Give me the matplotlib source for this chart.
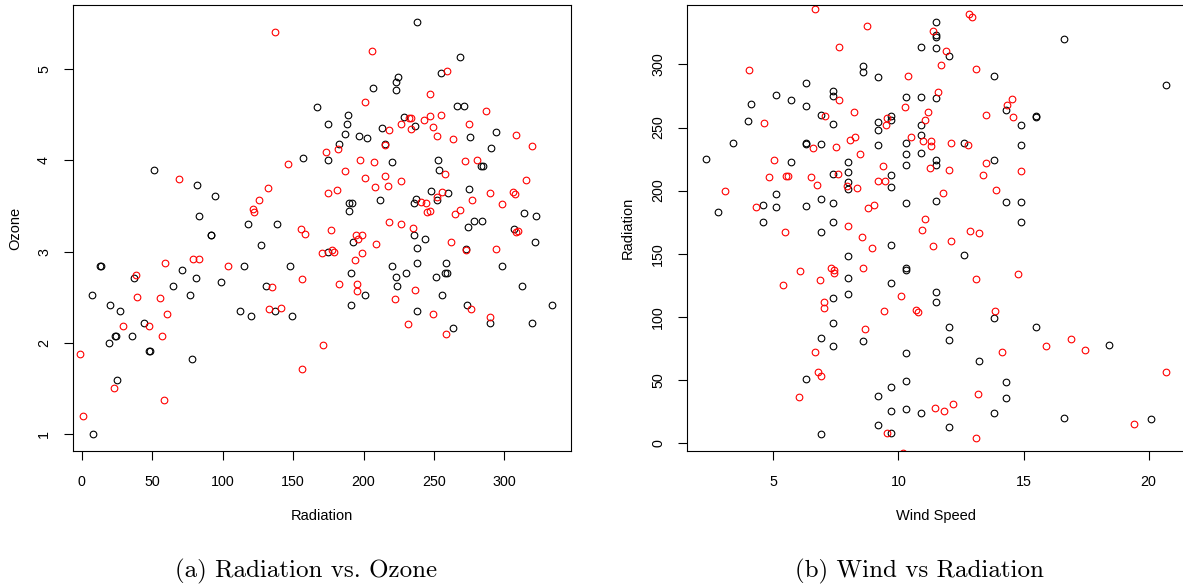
import matplotlib.pyplot as plt

# ---- panel (a): radiation vs cube-root ozone ----
rad_black = [166.7, 157, 51, 81.8, 94.8, 83, 118, 138.7,
             237.6, 268.8, 254.8, 224.8, 222.9, 206.8, 222.7, 266.7, 271.6, 188.9, 174.9, 187.9,
             186.7, 182.7, 196.9, 202.8, 212.8, 214.9, 228.8, 236.6, 275.9, 293.8, 290.8, 174.9,
             219.9, 252.7, 253.6, 283.7, 284.6, 189.8, 191.5, 189.8, 211.8, 236.9, 235.9, 247.7,
             251.8, 259.8, 274.7, 313.7, 322.7, 278.7, 283.9, 274, 306.6,
             321.7, 192.6, 235.7, 243.7, 272.8, 237.6, 174.9, 237.6, 258.6, 219.9, 298.6, 190.8,
             258, 259, 222.7, 229.8, 251.5, 200.9, 223.6, 255.7, 312.5, 190.8, 237.6, 273.8,
             289.6, 333.8, 319.9, 263.6,
             91.5, 92, 126.9, 12.8, 13.6, 114.9, 147.7, 36.9, 70.9, 80.9, 65, 98.8, 7.1, 76.8,
             130.9, 20.1, 26.9, 44, 23.5, 24.3, 35.9, 19.1, 47.8, 48.6, 78, 112.3, 119.9, 137.1,
             148.9, 25, 7.8]
ozone_black = [4.58, 4.02, 3.89, 3.73, 3.61, 3.39, 3.30, 3.30,
               5.52, 5.13, 4.96, 4.91, 4.86, 4.79, 4.77, 4.60, 4.60, 4.50, 4.40, 4.40,
               4.29, 4.18, 4.27, 4.24, 4.35, 4.18, 4.47, 4.38, 4.26, 4.31, 4.14, 4.00,
               3.98, 4.00, 3.89, 3.94, 3.94, 3.53, 3.53, 3.45, 3.56, 3.58, 3.53, 3.66,
               3.56, 3.64, 3.69, 3.42, 3.39, 3.33, 3.33, 3.27, 3.25,
               3.11, 3.11, 3.18, 3.14, 3.03, 3.04, 3.00, 2.88, 2.88, 2.84, 2.84, 2.76,
               2.76, 2.76, 2.72, 2.76, 2.72, 2.52, 2.62, 2.52, 2.62, 2.41, 2.35, 2.41,
               2.22, 2.41, 2.22, 2.16,
               3.18, 3.18, 3.07, 2.84, 2.84, 2.84, 2.84, 2.71, 2.80, 2.71, 2.62, 2.67, 2.52, 2.52,
               2.62, 2.41, 2.35, 2.22, 2.08, 2.08, 2.08, 2.00, 1.91, 1.91, 1.82, 2.35, 2.29, 2.35,
               2.29, 1.59, 1.00]

rad_red = [137.3, 146.3, 69, 132.1, 125.7, 121.5, 122, 155.3,
           205.9, 259.1, 247.5, 287.2, 200.7, 215.3, 218.2, 226.5, 232.6, 233.8, 233.8, 243,
           247.5, 249.6, 255, 251.8, 263.6, 274.7, 308.5, 319.9, 173.5, 181.8, 197.6, 207.3,
           187, 200.7, 215.1, 207.8, 217.7, 226.7, 257.9, 272.1, 280.9, 315.1, 174.9, 180.9,
           241.1, 244, 251.8, 255.7, 245.4, 247, 265, 268.5, 277.3, 290.1, 298.1, 306.1,
           307.5, 217.9, 226.7, 234.8, 177,
           158.4, 308.1, 309.5, 194.5, 198.8, 196.4, 208.5, 262, 272.8, 294.3, 170.4, 177.7,
           179.1, 198.8, 193.6, 156, 182.3, 195.7, 195.2, 236.2, 222, 249.6, 276.3, 290.1,
           231.9, 258.6, 171.4, 156.5,
           59.1, 79.2, 83, 104, 38.5, 39.2, 55.5, 135.2, 60.7, 47.9, 29.5, 57, 133, 141.6,
           -1.2, 23.1, 58.4, 0.7]
ozone_red = [5.41, 3.96, 3.80, 3.70, 3.57, 3.47, 3.43, 3.25,
             5.20, 4.98, 4.73, 4.54, 4.64, 4.17, 4.33, 4.40, 4.46, 4.46, 4.34, 4.44,
             4.48, 4.37, 4.50, 4.27, 4.23, 4.40, 4.28, 4.16, 4.09, 4.12, 4.00, 3.98,
             3.88, 3.81, 3.83, 3.71, 3.72, 3.77, 3.85, 3.99, 4.00, 3.78, 3.64, 3.67,
             3.54, 3.53, 3.60, 3.65, 3.43, 3.45, 3.41, 3.46, 3.57, 3.64, 3.52, 3.65,
             3.63, 3.32, 3.30, 3.26, 3.24,
             3.19, 3.22, 3.23, 3.18, 3.18, 3.14, 3.08, 3.11, 3.02, 3.03, 2.98, 3.02,
             3.00, 2.98, 2.91, 2.70, 2.65, 2.64, 2.57, 2.58, 2.48, 2.32, 2.37, 2.28,
             2.21, 2.10, 1.98, 1.71,
             2.88, 2.92, 2.92, 2.84, 2.74, 2.50, 2.49, 2.61, 2.32, 2.19, 2.19, 2.08, 2.37, 2.38,
             1.88, 1.51, 1.37, 1.20]

# ---- panel (b): wind speed vs radiation ----
wind_black = [10.9, 8.6, 8.6, 9.2, 6.3, 5.1, 5.7, 4.1, 6.3, 7.4, 7.4, 10.3, 10.9, 4.0, 6.9, 7.4,
              9.7, 9.7, 9.2, 9.2, 10.9, 10.9, 3.4, 6.3, 6.3, 6.9, 9.2, 10.3, 10.3, 10.3, 10.9, 2.3,
              5.7, 7.4, 8.0, 8.0, 8.0, 8.0, 9.7, 9.7, 5.1, 2.8, 4.6, 5.1, 6.3, 6.9, 7.4, 10.3,
              4.6, 7.4,
              11.5, 11.5, 11.5, 11.5, 12.0, 16.6, 13.8, 20.7, 11.5, 14.3, 15.5, 15.5, 14.9, 12.6,
              14.9, 11.5, 11.5, 13.8, 11.5, 14.3, 14.9, 14.9,
              6.9, 9.7, 8.0, 8.0, 9.7, 10.3, 10.3, 8.0, 7.4, 7.4, 6.9, 7.4, 8.6, 10.3, 6.3, 10.3,
              9.7, 9.2, 9.7, 10.3, 10.9, 9.2, 9.7, 6.9,
              12.6, 11.5, 11.5, 13.8, 12.0, 12.0, 15.5, 13.2, 18.4, 14.3, 14.3, 13.8, 16.6, 20.1,
              12.0]
rad_b_black = [314, 299, 294, 290, 285, 276, 272, 269, 267, 279, 275, 274, 274, 255, 260, 253,
               259, 256, 254, 248, 252, 244, 238, 238, 237, 237, 236, 238, 229, 220, 230, 225,
               223, 213, 223, 215, 207, 201, 212, 203, 197, 183, 189, 187, 188, 193, 190, 190,
               175, 175,
               334, 323, 322, 313, 307, 320, 291, 284, 273, 264, 259, 258, 252, 238, 236, 224,
               220, 224, 192, 191, 191, 175,
               167, 157, 148, 131, 127, 139, 137, 118, 115, 95, 83, 77, 81, 71, 51, 49, 44, 37,
               25, 27, 24, 14, 8, 7,
               149, 120, 112, 99, 92, 82, 92, 65, 78, 48, 36, 24, 20, 19, 13]

wind_red = [6.65, 8.75, 7.63, 4.03, 10.39, 7.63, 8.23, 10.28, 11.17, 4.64, 7.07, 9.56, 9.52,
            11.08, 10.49, 10.99, 6.59, 7.49, 8.05, 8.27, 8.47, 5.03, 4.81, 5.51, 5.59, 6.49,
            6.73, 7.59, 7.93, 8.35, 9.4, 9.17, 9.47, 3.07, 4.29, 8.77, 9.03, 11.07, 7.99,
            12.8, 12.93, 11.37, 11.89, 11.71, 13.11, 11.57, 14.53, 14.35, 13.51, 14.56, 11.29,
            11.29, 12.08, 12.76, 11.25, 12.0, 13.48, 13.37, 14.89, 11.77, 13.88,
            5.45, 8.55, 8.93, 10.96, 6.08, 5.37, 6.87, 7.31, 7.44, 7.44, 8.6, 7.03, 7.03, 10.11,
            9.41, 10.69, 10.79, 8.67, 6.65, 6.79, 6.89, 6.01, 9.55, 10.19,
            12.85, 13.2, 12.11, 11.4, 13.11, 14.77, 13.87, 14.12, 15.91, 16.88, 17.44, 20.68,
            13.17, 12.17, 11.45, 11.81, 19.4, 13.08]
rad_b_red = [343.6, 330.4, 313.8, 295.8, 290.8, 271.8, 262.3, 266.2, 262.5, 253.6, 258.9, 257.3,
             251.7, 255.7, 242.5, 239.5, 233.8, 234.5, 239.9, 242.2, 229.3, 224, 211, 211.6,
             211.6, 210.5, 204.2, 212.9, 203.6, 201.8, 219.3, 207.8, 207.4, 199.9, 187, 186,
             188.3, 177.3, 171.7,
             339.7, 337.8, 326.7, 310.4, 299.8, 296.1, 277.9, 272.6, 267.6, 259.9, 258.1, 239.5,
             235.3, 237.7, 236.1, 217.7, 216.1, 221.9, 212.1, 215.3, 197.9, 200.2,
             167.4, 163.2, 154.5, 168.5, 136.3, 125, 128.9, 138.9, 137.1, 134.5, 138.4, 112, 107,
             116.5, 104.6, 105.6, 103.6, 90.6, 72.1, 56, 53.4, 36.7, 7.9, -8,
             168.2, 166.2, 160.3, 156.4, 130, 133.7, 104.9, 72.1, 76.6, 82.2, 74, 56,
             38.8, 30.7, 27.5, 25.4, 15.1, 4.2]

W, H = 1183, 586
fig = plt.figure(figsize=(W / 100, H / 100), dpi=100)
plt.rcParams['font.family'] = ['Liberation Sans', 'DejaVu Sans']


def px_box(x0, x1, y0, y1):
    return [x0 / W, 1 - y1 / H, (x1 - x0) / W, (y1 - y0) / H]


ax1 = fig.add_axes(px_box(73.3, 570.7, 5, 450.7))
ax2 = fig.add_axes(px_box(687.3, 1184.7, 5, 450.7))

pt = dict(linestyle='none', marker='o', markersize=4.8, markerfacecolor='none',
          markeredgewidth=0.8)
ax1.plot(rad_black, ozone_black, markeredgecolor='black', **pt)
ax1.plot(rad_red, ozone_red, markeredgecolor='#ff0000', **pt)
ax2.plot(wind_black, rad_b_black, markeredgecolor='black', **pt)
ax2.plot(wind_red, rad_b_red, markeredgecolor='#ff0000', **pt)

ax1.set_xlim(-6.08, 347.08)
ax1.set_ylim(0.819, 5.701)
ax1.set_xticks([0, 50, 100, 150, 200, 250, 300])
ax1.set_yticks([1, 2, 3, 4, 5])
ax2.set_xlim(1.56, 21.44)
ax2.set_ylim(-6.08, 347.08)
ax2.set_xticks([5, 10, 15, 20])
ax2.set_yticks([0, 50, 100, 150, 200, 250, 300])

for ax in (ax1, ax2):
    for s in ax.spines.values():
        s.set_linewidth(0.8)
    ax.tick_params(direction='out', length=6.5, width=0.8, labelsize=10.3)
    ax.tick_params(axis='x', pad=11)
    ax.tick_params(axis='y', pad=9.5, labelrotation=90)
    for lab in ax.get_yticklabels():
        lab.set_va('center')

fig.text(322 / W, 1 - 520 / H, 'Radiation', ha='center', va='baseline', fontsize=10.5)
fig.text(936 / W, 1 - 520 / H, 'Wind Speed', ha='center', va='baseline', fontsize=10.5)
fig.text(15 / W, 1 - 228 / H, 'Ozone', ha='center', va='center', rotation=90, fontsize=10.5)
fig.text(628 / W, 1 - 228 / H, 'Radiation', ha='center', va='center', rotation=90, fontsize=10.5)

fig.text(306 / W, 1 - 577 / H, '(a) Radiation vs. Ozone', ha='center', va='baseline',
         fontsize=18, family='cmr10')
fig.text(919 / W, 1 - 577 / H, '(b) Wind vs Radiation', ha='center', va='baseline',
         fontsize=18, family='cmr10')

fig.savefig('out.png', dpi=100)
